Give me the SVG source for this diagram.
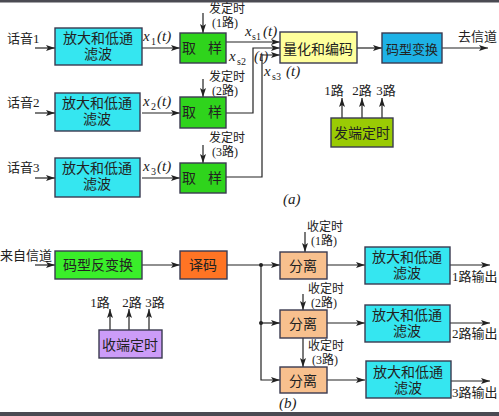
<svg xmlns="http://www.w3.org/2000/svg" width="499" height="416" viewBox="0 0 499 416">
<defs>
<marker id="ah" markerWidth="9" markerHeight="6" refX="9" refY="3" orient="auto" markerUnits="userSpaceOnUse">
<path d="M0,0 L9,3 L0,6 L2,3 z" fill="#222"/>
</marker>
<style>
.bx{stroke:#3a3a50;stroke-width:1.4}
.cy{fill:#35e6f0}
.gr{fill:#2fd41c}
.yl{fill:#ffff9c}
.bl{fill:#1eb2e6}
.yg{fill:#9acb04}
.lg{fill:#3aee2a}
.or{fill:#ff7424}
.tn{fill:#f8c08e}
.pu{fill:#cc9cf8}
.la{fill:none;stroke:#222;stroke-width:1.2;marker-end:url(#ah)}
text{font-family:"Liberation Serif","Noto Sans CJK SC",serif;font-size:13px;fill:#222}
.c{text-anchor:middle}
.b{font-size:14px}
.t{font-size:12px}
.i{font-style:italic;font-size:15px}
.s{font-size:10px}
</style>
</defs>
<rect x="0" y="0" width="499" height="416" fill="#ffffff"/>
<rect x="0" y="0" width="499" height="2.5" fill="#4a4a52"/>
<rect x="0" y="412" width="499" height="4" fill="#4a4a52"/>

<g id="connectors">
<path class="la" d="M35,48 H55"/>
<path class="la" d="M142,48 H180"/>
<path class="la" d="M35,113 H55"/>
<path class="la" d="M142,113 H180"/>
<path class="la" d="M35,178 H55"/>
<path class="la" d="M142,178 H180"/>
<path class="la" d="M203,13 V33"/>
<path class="la" d="M203,79 V97"/>
<path class="la" d="M203,145 V163"/>
<path class="la" d="M226,42 H280"/>
<path class="la" d="M226,113 H253 V48 H280"/>
<path class="la" d="M226,177 H262 V55 H280"/>
<path class="la" d="M357,48 H382"/>
<path class="la" d="M442,48 H488"/>
<path class="la" d="M342,118 V98"/>
<path class="la" d="M362,118 V98"/>
<path class="la" d="M382,118 V98"/>

<path class="la" d="M35,265 H55"/>
<path class="la" d="M142,265 H180"/>
<path class="la" d="M227,265 H280"/>
<path class="la" d="M261,265 V380 H280"/>
<path class="la" d="M261,323 H280"/>
<circle cx="261" cy="265" r="2" fill="#222"/>
<circle cx="261" cy="323" r="2" fill="#222"/>
<path class="la" d="M305,232 V252"/>
<path class="la" d="M303,294 V310"/>
<path class="la" d="M303,338 V367"/>
<path class="la" d="M327,265 H365"/>
<path class="la" d="M327,323 H365"/>
<path class="la" d="M327,380 H365"/>
<path class="la" d="M450,265 H490"/>
<path class="la" d="M450,323 H490"/>
<path class="la" d="M450,381 H490"/>
<path class="la" d="M110,330 V309"/>
<path class="la" d="M129,330 V309"/>
<path class="la" d="M149,330 V309"/>
</g>

<g id="labels-a">
<text x="7" y="43">话音1</text>
<text x="7" y="107">话音2</text>
<text x="7" y="172">话音3</text>
<text x="143" y="41" class="i">x</text><text x="151" y="45" class="s">1</text><text x="157" y="41" class="i">(t)</text>
<text x="143" y="106" class="i">x</text><text x="151" y="110" class="s">2</text><text x="157" y="106" class="i">(t)</text>
<text x="143" y="171" class="i">x</text><text x="151" y="175" class="s">3</text><text x="157" y="171" class="i">(t)</text>
<text x="209" y="13" class="t">发定时</text>
<text x="212" y="27" class="t">(1路)</text>
<text x="209" y="81" class="t">发定时</text>
<text x="212" y="95" class="t">(2路)</text>
<text x="209" y="142" class="t">发定时</text>
<text x="212" y="156" class="t">(3路)</text>
<text x="245" y="36" class="i">x</text><text x="252" y="40" class="s">s1</text><text x="263" y="36" class="i">(t)</text>
<text x="229" y="61" class="i">x</text><text x="237" y="65" class="s">s2</text><text x="254" y="61" class="i">(t)</text>
<text x="264" y="76" class="i">x</text><text x="272" y="80" class="s">s3</text><text x="286" y="76" class="i">(t)</text>
<text x="458" y="41">去信道</text>
<text x="334" y="95" class="c">1路</text>
<text x="362" y="95" class="c">2路</text>
<text x="386" y="95" class="c">3路</text>
<text x="283" y="204" class="i">(a)</text>
</g>

<g id="amp1"><rect class="bx cy" x="55" y="28" width="87" height="37"/><text class="c b" x="98" y="43">放大和低通</text><text class="c b" x="98" y="59">滤波</text></g>
<g id="amp2"><rect class="bx cy" x="55" y="93" width="85" height="38"/><text class="c b" x="97" y="108">放大和低通</text><text class="c b" x="97" y="124">滤波</text></g>
<g id="amp3"><rect class="bx cy" x="55" y="158" width="85" height="39"/><text class="c b" x="97" y="173">放大和低通</text><text class="c b" x="97" y="189">滤波</text></g>
<g id="samp1"><rect class="bx gr" x="180" y="33" width="46" height="30"/><text class="b" x="182" y="53">取</text><text class="b" x="208" y="53">样</text></g>
<g id="samp2"><rect class="bx gr" x="180" y="97" width="46" height="31"/><text class="b" x="182" y="117">取</text><text class="b" x="208" y="117">样</text></g>
<g id="samp3"><rect class="bx gr" x="180" y="163" width="46" height="30"/><text class="b" x="182" y="183">取</text><text class="b" x="208" y="183">样</text></g>
<g id="quant"><rect class="bx yl" x="280" y="32" width="77" height="31"/><text class="c b" x="318" y="54">量化和编码</text></g>
<g id="codeconv"><rect class="bx bl" x="382" y="33" width="60" height="30"/><text class="c" x="412" y="54">码型变换</text></g>
<g id="txclock"><rect class="bx yg" x="331" y="118" width="62" height="29"/><text class="c b" x="362" y="138">发端定时</text></g>

<g id="labels-b">
<text x="0" y="260">来自信道</text>
<text x="307" y="231" class="t">收定时</text>
<text x="311" y="245" class="t">(1路)</text>
<text x="308" y="293" class="t">收定时</text>
<text x="311" y="307" class="t">(2路)</text>
<text x="308" y="350" class="t">收定时</text>
<text x="312" y="364" class="t">(3路)</text>
<text x="452" y="281">1路输出</text>
<text x="452" y="338">2路输出</text>
<text x="452" y="397">3路输出</text>
<text x="100" y="307" class="c">1路</text>
<text x="132" y="307" class="c">2路</text>
<text x="155" y="307" class="c">3路</text>
<text x="279" y="408" class="i">(b)</text>
</g>

<g id="decodeconv"><rect class="bx lg" x="55" y="251" width="87" height="28"/><text class="c b" x="98" y="270">码型反变换</text></g>
<g id="decoder"><rect class="bx or" x="180" y="251" width="47" height="28"/><text class="c b" x="203" y="270">译码</text></g>
<g id="sep1"><rect class="bx tn" x="280" y="252" width="47" height="27"/><text class="c b" x="303" y="271">分离</text></g>
<g id="sep2"><rect class="bx tn" x="280" y="310" width="47" height="28"/><text class="c b" x="303" y="329">分离</text></g>
<g id="sep3"><rect class="bx tn" x="280" y="367" width="47" height="26"/><text class="c b" x="303" y="386">分离</text></g>
<g id="ramp1"><rect class="bx cy" x="365" y="247" width="85" height="37"/><text class="c b" x="407" y="262">放大和低通</text><text class="c b" x="407" y="278">滤波</text></g>
<g id="ramp2"><rect class="bx cy" x="365" y="305" width="85" height="37"/><text class="c b" x="407" y="320">放大和低通</text><text class="c b" x="407" y="336">滤波</text></g>
<g id="ramp3"><rect class="bx cy" x="366" y="361" width="85" height="37"/><text class="c b" x="408" y="377">放大和低通</text><text class="c b" x="408" y="393">滤波</text></g>
<g id="rxclock"><rect class="bx pu" x="99" y="330" width="63" height="28"/><text class="c b" x="130" y="350">收端定时</text></g>
</svg>
